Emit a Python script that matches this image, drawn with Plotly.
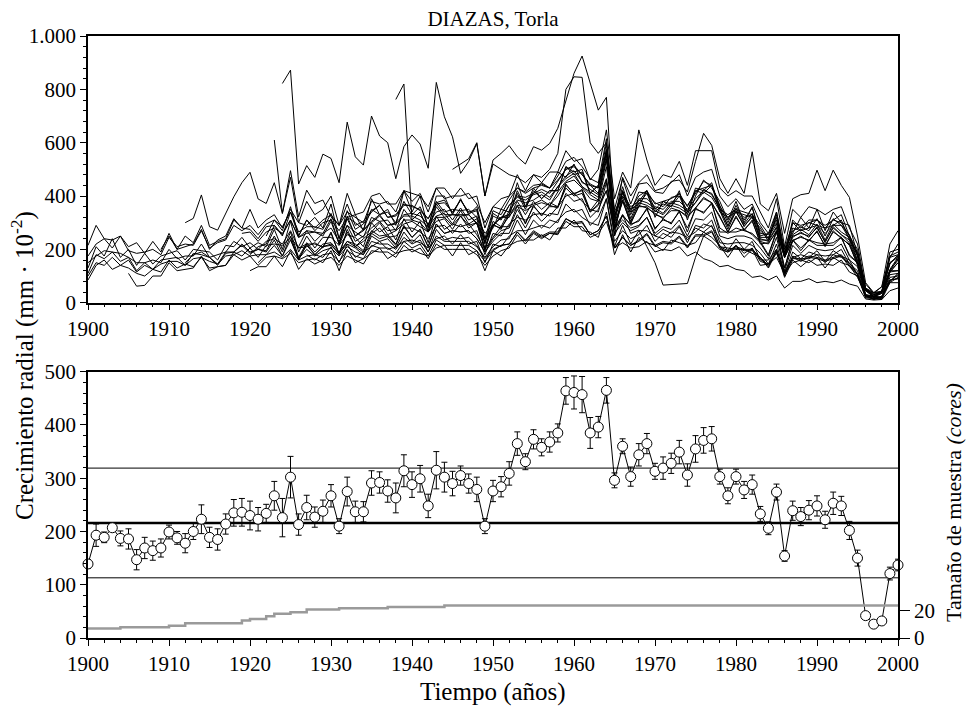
import plotly.graph_objects as go

# ---------------- data ----------------
years = list(range(1900, 2001))

# bottom panel: mean ring width chronology (mm*10^-2) and its error
mean_ring = [139, 193, 189, 207, 187, 186, 147, 169, 164, 169,
             199, 188, 178, 200, 223, 189, 185, 214, 235, 236,
             230, 223, 234, 267, 226, 302, 213, 245, 227, 238,
             267, 210, 275, 237, 237, 291, 292, 276, 263, 314,
             288, 299, 248, 315, 302, 290, 305, 290, 279, 210,
             276, 284, 309, 365, 331, 373, 358, 368, 385, 464,
             461, 457, 385, 396, 465, 296, 360, 303, 344, 365,
             313, 319, 328, 349, 306, 355, 371, 374, 303, 267,
             303, 278, 288, 233, 206, 274, 154, 239, 228, 240,
             248, 222, 253, 248, 202, 150, 42, 26, 32, 121,
             137]
mean_err = [8, 21, 10, 7, 14, 19, 19, 20, 18, 17,
            13, 12, 18, 15, 27, 19, 20, 19, 25, 26,
            27, 22, 17, 27, 36, 39, 20, 23, 19, 21,
            21, 14, 27, 20, 19, 23, 20, 21, 28, 30,
            24, 25, 22, 35, 28, 23, 18, 18, 23, 14,
            20, 19, 22, 22, 15, 18, 16, 19, 17, 25,
            31, 34, 29, 20, 24, 14, 14, 18, 21, 19,
            15, 21, 19, 22, 21, 25, 24, 23, 14, 15,
            14, 16, 18, 14, 12, 15, 10, 18, 17, 18,
            19, 16, 21, 18, 17, 15, 5, 4, 5, 12,
            11]
sample_depth = [7, 7, 7, 7, 8, 8, 8, 8, 8, 8,
                9, 9, 11, 11, 11, 11, 11, 11, 11, 13,
                14, 14, 16, 18, 18, 19, 19, 21, 21, 21,
                21, 22, 22, 22, 22, 22, 22, 23, 23, 23,
                23, 23, 23, 23, 24, 24, 24, 24, 24, 24,
                24, 24, 24, 24, 24, 24, 24, 24, 24, 24,
                24, 24, 24, 24, 24, 24, 24, 24, 24, 24,
                24, 24, 24, 24, 24, 24, 24, 24, 24, 24,
                24, 24, 24, 24, 24, 24, 24, 24, 24, 24,
                24, 24, 24, 24, 24, 24, 24, 24, 24, 24,
                24]
mean_level = [216, 216]
sd_upper = [319, 319]
sd_lower = [113, 113]
level_years = [1900, 2000]

top_ticks = [0, 200, 400, 600, 800, 1000]
top_ticktext = ["0", "200", "400", "600", "800", "1.000"]
depth_ticks = [0, 20]
depth_ticktext = ["0", "20"]

# top panel: individual series (cores), start year + values
tree01 = [215, 290, 240, 235, 250, 210, 225, 185, 230, 190,
          260, 200, 250, 225, 290, 215, 230, 240, 310, 280,
          350, 280, 310, 330, 280, 350, 300, 290, 320, 280,
          370, 240, 320, 330, 270, 390, 330, 350, 290, 420,
          340, 400, 280, 400, 400, 330, 390, 330, 360, 240,
          280, 350, 340, 450, 360, 410, 450, 430, 490, 470,
          520, 450, 440, 410, 540, 300, 380, 340, 360, 420,
          320, 380, 360, 420, 310, 400, 460, 430, 380, 310,
          380, 300, 360, 250, 260, 300, 200, 260, 320, 280,
          350, 270, 340, 300, 290, 180, 70, 35, 60, 170,
          220]
tree02 = [85, 140, 160, 125, 140, 130, 110, 100, 125, 115,
          160, 130, 145, 135, 170, 130, 135, 140, 180, 160,
          175, 140, 170, 175, 165, 185, 150, 160, 165, 150,
          195, 120, 200, 150, 165, 185, 205, 165, 185, 195,
          200, 185, 175, 205, 215, 175, 225, 180, 195, 120,
          195, 175, 215, 230, 235, 235, 255, 235, 280, 280,
          310, 270, 265, 245, 340, 180, 255, 190, 245, 225,
          215, 195, 235, 225, 215, 225, 265, 245, 215, 170,
          215, 170, 200, 140, 145, 170, 110, 150, 160, 150,
          170, 130, 170, 150, 140, 95, 30, 12, 25, 75,
          95]
tree03 = [130, 210, 175, 240, 170, 200, 140, 185, 145, 175,
          185, 195, 160, 200, 195, 190, 160, 215, 210, 245,
          205, 225, 210, 275, 200, 305, 190, 250, 205, 245,
          245, 215, 255, 245, 210, 300, 265, 285, 235, 315,
          265, 305, 225, 325, 275, 295, 285, 295, 255, 200,
          245, 285, 285, 365, 295, 365, 325, 365, 355, 445,
          405, 425, 345, 385, 465, 275, 325, 295, 305, 355,
          275, 315, 295, 345, 265, 355, 335, 375, 265, 265,
          265, 275, 255, 225, 175, 265, 130, 235, 195, 235,
          215, 215, 215, 245, 175, 150, 30, 25, 20, 120,
          120]
tree04 = [110, 180, 165, 190, 155, 170, 120, 150, 125, 160,
          165, 170, 140, 185, 180, 170, 145, 190, 190, 215,
          185, 200, 190, 235, 175, 250, 165, 215, 180, 210,
          215, 185, 220, 205, 180, 250, 230, 240, 205, 265,
          225, 255, 190, 275, 235, 245, 240, 245, 215, 170,
          210, 235, 240, 310, 255, 310, 280, 310, 300, 370,
          340, 350, 290, 320, 390, 230, 270, 240, 255, 290,
          230, 260, 245, 285, 225, 290, 280, 310, 225, 220,
          225, 225, 215, 185, 145, 220, 110, 190, 165, 190,
          180, 175, 180, 200, 145, 120, 25, 20, 15, 95,
          100]
tree05 = [175, 220, 240, 205, 250, 195, 185, 190, 200, 180,
          245, 210, 220, 215, 270, 205, 225, 235, 290, 270,
          290, 255, 295, 310, 285, 340, 265, 285, 285, 275,
          335, 240, 345, 275, 295, 340, 365, 320, 330, 370,
          360, 350, 315, 370, 375, 340, 385, 340, 350, 240,
          345, 330, 385, 430, 415, 440, 445, 430, 475, 530,
          545, 510, 465, 450, 615, 320, 435, 340, 415, 410,
          375, 360, 395, 400, 365, 410, 455, 440, 365, 300,
          365, 310, 355, 260, 255, 310, 190, 270, 285, 270,
          315, 250, 315, 290, 255, 175, 55, 28, 45, 145,
          180]
tree06 = [150, 175, 195, 190, 185, 170, 150, 150, 160, 150,
          200, 165, 175, 175, 220, 170, 180, 190, 230, 210,
          225, 200, 230, 240, 220, 270, 205, 220, 220, 210,
          260, 185, 265, 210, 230, 260, 280, 245, 250, 280,
          280, 265, 240, 285, 290, 260, 295, 260, 270, 180,
          260, 250, 295, 320, 310, 330, 335, 325, 360, 400,
          410, 380, 350, 340, 450, 250, 330, 260, 272, 210,
          150, 66, 68, 70, 72, 170, 250, 230, 200, 190,
          215, 185, 205, 155, 145, 185, 115, 165, 165, 165,
          180, 150, 180, 170, 150, 105, 28, 14, 22, 80,
          105]
tree07 = [100, 150, 140, 170, 140, 160, 115, 140, 125, 145,
          155, 155, 140, 165, 170, 155, 145, 175, 180, 195,
          175, 180, 180, 215, 175, 235, 165, 200, 175, 195,
          205, 175, 210, 190, 180, 230, 220, 220, 200, 245,
          220, 235, 190, 250, 230, 230, 230, 230, 210, 165,
          200, 215, 220, 265, 230, 265, 245, 260, 255, 305,
          285, 285, 245, 260, 305, 205, 225, 205, 210, 230,
          190, 200, 195, 210, 175, 190, 165, 155, 135, 140,
          125, 120, 95, 100, 85, 100, 55, 80, 80, 90,
          75, 80, 75, 85, 70, 62, 14, 10, 12, 45,
          55]
tree08 = [110, 62, 65, 100, 100,
          150, 120, 125, 130, 175, 120, 135, 140, 190, 175,
          205, 170, 215, 220, 215, 245, 205, 210, 225, 205,
          265, 180, 275, 210, 240, 265, 300, 255, 270, 295,
          305, 285, 265, 305, 315, 275, 325, 280, 300, 195,
          295, 275, 335, 365, 360, 370, 385, 365, 415, 455,
          475, 435, 405, 385, 535, 275, 385, 295, 365, 355,
          335, 315, 355, 345, 325, 355, 395, 375, 325, 265,
          325, 270, 310, 220, 225, 265, 170, 230, 250, 230,
          270, 210, 270, 240, 220, 140, 45, 22, 35, 115,
          150]
tree09 = [200,
          250, 200, 210, 220, 275, 200, 235, 250, 315, 280,
          275, 240, 285, 290, 255, 310, 245, 270, 265, 260,
          315, 220, 325, 250, 275, 305, 330, 290, 295, 325,
          325, 310, 285, 325, 335, 295, 345, 295, 315, 205,
          305, 285, 345, 385, 375, 385, 405, 385, 435, 465,
          485, 435, 415, 395, 555, 285, 395, 305, 375, 365,
          345, 330, 365, 355, 335, 375, 415, 395, 345, 275,
          345, 285, 325, 235, 235, 285, 180, 245, 265, 245,
          285, 225, 285, 255, 235, 155, 50, 22, 40, 120,
          165]
tree10 = [300, 316, 404, 285, 272, 335, 397, 450,
          489, 389, 372, 450, 335, 495, 322, 422, 372, 385,
          322, 290, 370, 290, 305, 345, 365, 320, 325, 365,
          365, 345, 315, 375, 385, 335, 385, 335, 345, 225,
          335, 315, 365, 395, 385, 405, 415, 395, 435, 475,
          495, 455, 425, 405, 575, 305, 415, 315, 385, 375,
          355, 335, 375, 365, 345, 375, 425, 405, 355, 285,
          355, 295, 335, 245, 245, 295, 180, 255, 275, 255,
          295, 235, 295, 265, 245, 160, 50, 25, 40, 125,
          170]
tree11 = [150, 180, 190, 170, 140, 185, 190, 220,
          190, 200, 195, 250, 190, 265, 170, 225, 190, 220,
          225, 190, 230, 220, 195, 270, 250, 255, 220, 290,
          245, 275, 210, 295, 260, 270, 265, 270, 240, 190,
          230, 260, 260, 330, 280, 340, 305, 335, 330, 410,
          380, 390, 320, 350, 420, 260, 300, 270, 285, 320,
          260, 285, 275, 310, 250, 315, 310, 340, 250, 240,
          250, 250, 240, 205, 165, 245, 120, 215, 185, 215,
          200, 195, 200, 220, 160, 135, 25, 22, 20, 105,
          110]
tree12 = [260,
          265, 230, 265, 280, 260, 310, 245, 260, 265, 250,
          305, 220, 315, 250, 270, 300, 325, 290, 300, 330,
          335, 325, 295, 340, 350, 310, 355, 310, 325, 220,
          325, 310, 365, 400, 395, 410, 425, 410, 455, 500,
          515, 480, 445, 430, 600, 350, 465, 370, 445, 450,
          415, 410, 455, 460, 415, 530, 635, 590, 465, 410,
          465, 410, 566, 370, 345, 410, 260, 390, 405, 410,
          497, 420, 497, 440, 395, 250, 75, 38, 60, 220,
          270]
tree13 = [180, 210, 220, 290, 250, 340, 250, 310, 280, 310,
          330, 290, 340, 320, 300, 380, 370, 380, 340, 420,
          380, 410, 340, 430, 390, 400, 400, 410, 370, 300,
          360, 390, 400, 480, 420, 480, 450, 490, 490, 570,
          530, 540, 460, 500, 648, 390, 490, 430, 648, 535,
          440, 480, 470, 530, 440, 570, 570, 570, 430, 400,
          420, 400, 400, 340, 280, 390, 210, 350, 320, 360,
          350, 330, 350, 360, 280, 220, 55, 38, 42, 190,
          200]
tree14 = [610, 335, 470, 300, 380, 330, 350,
          400, 290, 410, 330, 340, 400, 410, 370, 370, 420,
          410, 400, 360, 430, 430, 390, 430, 390, 400, 280,
          360, 350, 400, 430, 410, 430, 440, 430, 460, 500,
          510, 480, 440, 430, 570, 320, 420, 330, 390, 390,
          360, 350, 380, 380, 350, 390, 420, 410, 350, 290,
          340, 290, 320, 240, 230, 280, 170, 250, 260, 250,
          280, 230, 280, 255, 225, 150, 50, 22, 40, 120,
          160]
tree15 = [822, 872, 445, 514, 470, 557,
          541, 450, 677, 547, 516, 700, 625, 600, 465, 585,
          629, 595, 504, 826, 697, 622, 485, 530, 597, 400,
          535, 560, 589, 547, 520, 585, 572, 597, 654, 760,
          860, 925, 822, 722, 770, 300, 470, 400, 450, 480,
          420, 430, 450, 480, 400, 470, 490, 500, 400, 360,
          390, 350, 370, 300, 260, 340, 200, 300, 290, 300,
          310, 280, 310, 300, 250, 180, 50, 30, 40, 150,
          170]
tree16 = [150, 180, 190, 170, 200, 160, 175, 180, 170,
          210, 150, 220, 170, 190, 210, 230, 200, 210, 230,
          235, 225, 205, 240, 250, 220, 255, 220, 230, 150,
          220, 210, 250, 270, 270, 280, 290, 280, 310, 340,
          350, 320, 300, 290, 390, 210, 290, 220, 270, 270,
          250, 240, 265, 260, 245, 265, 295, 285, 240, 195,
          240, 200, 230, 160, 160, 200, 115, 170, 180, 170,
          195, 155, 195, 175, 160, 105, 28, 12, 22, 80,
          110]
tree17 = [250, 310, 270, 360, 250, 310, 270, 300,
          310, 270, 320, 300, 275, 350, 330, 340, 300, 380,
          330, 360, 290, 380, 340, 350, 345, 350, 320, 260,
          290, 320, 320, 380, 330, 380, 350, 375, 360, 430,
          400, 410, 340, 365, 420, 280, 310, 280, 290, 320,
          250, 275, 260, 290, 235, 280, 265, 290, 210, 205,
          200, 200, 185, 170, 130, 190, 95, 160, 135, 160,
          140, 145, 140, 160, 115, 100, 18, 14, 12, 75,
          75]
tree18 = [240, 160, 220, 180, 210,
          220, 180, 230, 210, 190, 260, 240, 250, 215, 285,
          245, 275, 210, 295, 260, 270, 265, 270, 240, 190,
          240, 270, 280, 350, 300, 360, 330, 360, 360, 440,
          410, 420, 340, 370, 460, 280, 330, 290, 310, 350,
          280, 310, 300, 340, 280, 350, 340, 370, 280, 260,
          280, 270, 260, 230, 180, 270, 130, 235, 205, 235,
          225, 220, 225, 245, 180, 150, 30, 22, 20, 115,
          120]
tree19 = [210, 270, 230, 260,
          280, 230, 290, 265, 245, 320, 305, 310, 270, 350,
          310, 340, 265, 360, 320, 330, 325, 330, 295, 240,
          290, 320, 330, 410, 350, 420, 390, 420, 420, 510,
          490, 500, 410, 440, 570, 340, 410, 360, 380, 420,
          350, 380, 370, 410, 340, 430, 420, 450, 350, 330,
          350, 340, 330, 290, 240, 340, 180, 310, 280, 310,
          310, 290, 310, 330, 250, 200, 50, 38, 42, 175,
          190]
tree20 = [180, 160, 180,
          185, 155, 195, 175, 165, 215, 205, 205, 185, 230,
          205, 220, 175, 235, 215, 215, 215, 215, 195, 155,
          195, 215, 220, 265, 235, 270, 250, 265, 265, 315,
          295, 300, 255, 270, 325, 205, 245, 215, 230, 255,
          210, 225, 220, 245, 205, 250, 250, 265, 205, 190,
          205, 195, 195, 165, 135, 195, 100, 170, 155, 170,
          165, 155, 165, 175, 135, 105, 22, 17, 18, 85,
          90]
tree21 = [762, 820,
          310, 340, 270, 370, 330, 330, 330, 330, 300, 230,
          290, 320, 330, 420, 360, 430, 390, 420, 420, 510,
          480, 490, 410, 440, 560, 330, 400, 350, 370, 410,
          340, 370, 360, 400, 330, 420, 410, 440, 340, 320,
          340, 330, 320, 280, 230, 330, 170, 300, 270, 300,
          290, 280, 290, 310, 235, 190, 45, 35, 38, 170,
          180]
tree22 = [500, 520, 540, 600, 400,
          520, 500, 480, 470, 450, 480, 470, 500, 560, 800,
          847, 845, 600, 560, 600, 250, 420, 350, 400, 420,
          370, 380, 390, 410, 360, 420, 430, 440, 360, 320,
          350, 320, 330, 270, 240, 320, 180, 280, 270, 280,
          290, 260, 290, 290, 240, 175, 50, 30, 40, 150,
          175]
tree23 = [120, 135, 135, 175, 135, 195, 125, 165, 145, 160,
          170, 140, 175, 160, 145, 195, 190, 190, 170, 215,
          190, 205, 165, 220, 200, 200, 200, 200, 180, 140,
          175, 195, 205, 255, 220, 260, 240, 260, 260, 315,
          300, 305, 255, 270, 325, 205, 245, 215, 235, 260,
          215, 230, 225, 250, 210, 255, 255, 270, 210, 195,
          210, 200, 200, 170, 140, 200, 105, 175, 160, 175,
          170, 160, 170, 180, 140, 110, 22, 17, 18, 85,
          90]
tree24 = [215, 290, 230, 250, 280, 305, 270, 275, 310,
          310, 300, 265, 320, 320, 290, 325, 290, 300, 200,
          290, 280, 325, 360, 345, 365, 375, 365, 400, 450,
          460, 430, 390, 380, 510, 280, 380, 300, 360, 360,
          330, 320, 345, 345, 320, 355, 390, 375, 320, 265,
          320, 275, 305, 230, 220, 270, 170, 235, 245, 235,
          265, 215, 265, 245, 215, 145, 45, 22, 35, 115,
          150]

trees = [tree01, tree02, tree03, tree04, tree05, tree06, tree07, tree08,
         tree09, tree10, tree11, tree12, tree13, tree14, tree15, tree16,
         tree17, tree18, tree19, tree20, tree21, tree22, tree23, tree24]
start_years = [1900, 1900, 1900, 1900, 1900, 1900, 1900, 1905,
               1909, 1912, 1912, 1919, 1920, 1923, 1924, 1921,
               1922, 1925, 1926, 1927, 1938, 1945, 1920, 1931]

# ---------------- figure ----------------
FONT = "Liberation Serif"
fig = go.Figure()

for s, vals in zip(start_years, trees):
    fig.add_trace(go.Scatter(
        x=list(range(s, s + len(vals))), y=vals, mode="lines",
        line=dict(color="black", width=1), xaxis="x", yaxis="y",
        hoverinfo="skip", showlegend=False))

# sample depth (secondary axis)
fig.add_trace(go.Scatter(
    x=years, y=sample_depth, mode="lines", line=dict(color="#9a9a9a", width=2.5, shape="hv"),
    xaxis="x2", yaxis="y3", showlegend=False, hoverinfo="skip"))

for lv, w in ((sd_upper, 1), (sd_lower, 1), (mean_level, 2.5)):
    fig.add_trace(go.Scatter(
        x=level_years, y=lv, mode="lines", line=dict(color="black", width=w),
        xaxis="x2", yaxis="y2", showlegend=False, hoverinfo="skip"))

fig.add_trace(go.Scatter(
    x=years, y=mean_ring, mode="lines+markers",
    line=dict(color="black", width=1),
    marker=dict(symbol="circle", size=10, color="white", line=dict(color="black", width=1)),
    error_y=dict(type="data", array=mean_err, visible=True, color="black", thickness=1, width=3),
    xaxis="x2", yaxis="y2", showlegend=False, cliponaxis=False))

axis_common = dict(showline=True, linecolor="black", linewidth=1.5, ticks="outside",
                   tickcolor="black", showgrid=False, zeroline=False,
                   tickfont=dict(family=FONT, size=21, color="black"))

top_dom = [(638 - 302.7) / 602, 1.0]
bot_dom = [0.0, (638 - 371.7) / 602]

fig.update_layout(
    width=966, height=713,
    margin=dict(l=88, r=68, t=36, b=75),
    paper_bgcolor="white", plot_bgcolor="white",
    font=dict(family=FONT, color="black"),
    showlegend=False,
    title=dict(text="DIAZAS, Torla", x=0.5, xref="paper", xanchor="center",
               y=1 - 19 / 713, yref="container", yanchor="middle",
               font=dict(family=FONT, size=21, color="black")),
    xaxis=dict(domain=[0, 1], anchor="y", range=[1900, 2000], tick0=1900, dtick=10,
               ticklen=6, mirror=True,
               minor=dict(dtick=2, ticklen=3, ticks="outside", tickcolor="black"),
               **axis_common),
    yaxis=dict(domain=top_dom, anchor="x", range=[0, 1000], tickvals=top_ticks,
               ticktext=top_ticktext, ticklen=6, mirror=True,
               minor=dict(dtick=40, ticklen=3, ticks="outside", tickcolor="black"),
               **axis_common),
    xaxis2=dict(domain=[0, 1], anchor="y2", range=[1900, 2000], tick0=1900, dtick=10,
                ticklen=6, mirror=True,
                minor=dict(dtick=2, ticklen=3, ticks="outside", tickcolor="black"),
                **axis_common),
    yaxis2=dict(domain=bot_dom, anchor="x2", range=[0, 500], dtick=100, ticklen=6,
                mirror=True,
                minor=dict(dtick=20, ticklen=3, ticks="outside", tickcolor="black"),
                **axis_common),
    yaxis3=dict(overlaying="y2", anchor="x2", side="right", range=[0, 197],
                tickvals=depth_ticks, ticktext=depth_ticktext, ticklen=10,
                **axis_common),
)

fig.add_annotation(text="Crecimiento radial (mm · 10<sup>-2</sup>)", xref="paper", yref="paper",
                   x=(23 - 88) / 810, y=(638 - 366) / 602, textangle=-90, showarrow=False,
                   xanchor="center", yanchor="middle",
                   font=dict(family=FONT, size=25, color="black"))
fig.add_annotation(text="Tamaño de muestra <i>(cores)</i>", xref="paper", yref="paper",
                   x=(953 - 88) / 810, y=(638 - 503) / 602, textangle=-90, showarrow=False,
                   xanchor="center", yanchor="middle",
                   font=dict(family=FONT, size=22, color="black"))
fig.add_annotation(text="Tiempo (años)", xref="paper", yref="paper",
                   x=0.5, y=(638 - 692) / 602, showarrow=False,
                   xanchor="center", yanchor="middle",
                   font=dict(family=FONT, size=25, color="black"))

fig.write_html("out.html")
